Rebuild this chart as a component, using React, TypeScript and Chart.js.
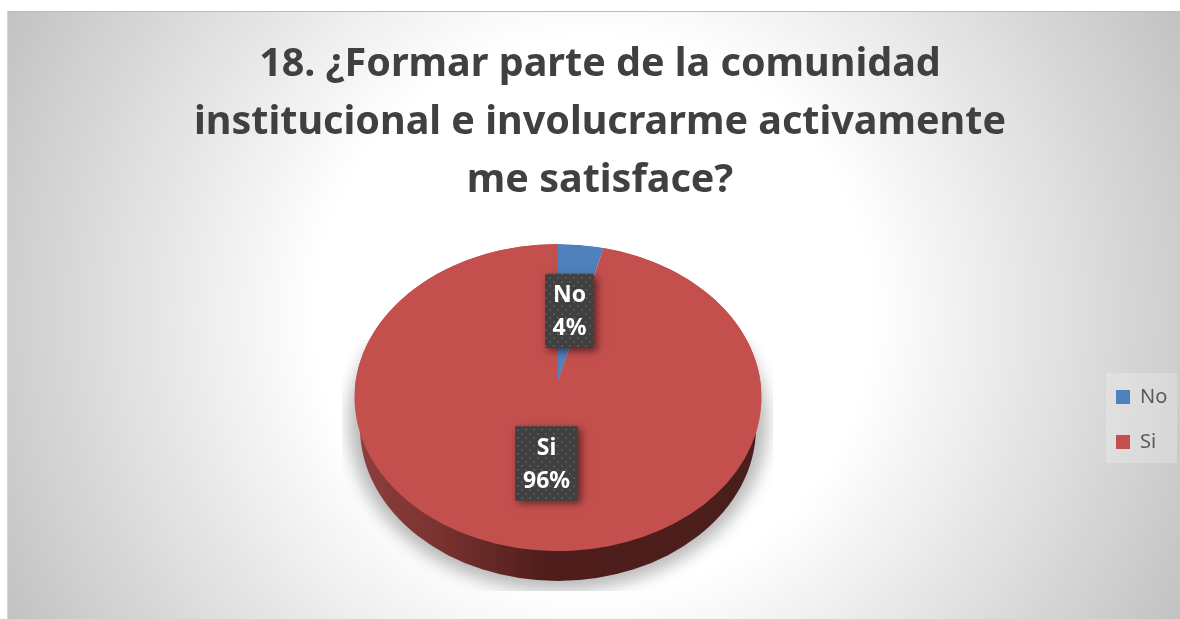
import React, { useEffect, useRef } from "react";
import { Chart, registerables } from "chart.js";

Chart.register(...registerables);

const categories = ["No", "Si"];
const seriesValues = [3.6, 96.4];
const seriesColors = ["#4f81bd", "#c4504e"];
const titleLines = [
  "18. ¿Formar parte de la comunidad",
  "institucional e involucrarme activamente",
  "me satisface?",
];

const FONT = "'Noto Sans', 'Open Sans', sans-serif";
const pie = {
  x: 558,
  radius: 203.5,
  faceY: 397.5,
  faceScale: 153.5 / 203.5,
  apexY: 381,
  upper: 137 / 203.5,
  lower: 170 / 203.5,
  depth: 30,
  wallRx: 198,
};
const frame = { x: 7, y: 11, right: 1180, bottom: 619 };
const legendBox = { x: 1106, y: 373, w: 71, h: 90 };

function makeDots(ctx: CanvasRenderingContext2D) {
  const c = document.createElement("canvas");
  c.width = 8;
  c.height = 8;
  const g = c.getContext("2d")!;
  g.fillStyle = "#404040";
  g.fillRect(0, 0, 8, 8);
  g.fillStyle = "#565656";
  g.fillRect(1, 1, 2, 2);
  g.fillRect(5, 5, 2, 2);
  return ctx.createPattern(c, "repeat")!;
}

function applyTransform(ctx: CanvasRenderingContext2D, el: any, y: number, s: number) {
  ctx.translate(pie.x, y);
  ctx.scale(1, s);
  ctx.translate(-el.x, -el.y);
}

const scenePlugin = {
  id: "scene",
  afterLayout(chart: any) {
    const l = chart.legend;
    const p = 25;
    l.left = 1116 - p;
    l.right = l.left + l.width;
    l.top = 387 - p;
    l.bottom = l.top + l.height;
  },
  beforeDraw(chart: any) {
    const { ctx } = chart;
    ctx.save();
    const w = frame.right - frame.x;
    const h = frame.bottom - frame.y;
    const cx = frame.x + w / 2;
    const cy = frame.y + h / 2;
    const r = Math.hypot(w, h) / 2;
    const g = ctx.createRadialGradient(cx, cy, 0, cx, cy, r);
    g.addColorStop(0, "#ffffff");
    g.addColorStop(0.42, "#ffffff");
    g.addColorStop(1, "#c2c2c2");
    ctx.fillStyle = g;
    ctx.fillRect(frame.x, frame.y, w, h);
    ctx.fillStyle = "#bdbdbd";
    ctx.fillRect(frame.x, frame.y, w, 1);
    ctx.fillStyle = "#d6d6d6";
    ctx.fillRect(frame.x, frame.y, 1, h);
    ctx.fillStyle = "rgba(255,255,255,0.22)";
    ctx.fillRect(legendBox.x, legendBox.y, legendBox.w, legendBox.h);
    ctx.restore();
  },
  beforeDatasetsDraw(chart: any) {
    const { ctx } = chart;
    const el = chart.getDatasetMeta(0).data[0];
    const R = pie.radius;
    const ry = R * pie.faceScale;
    const wallY = pie.faceY + pie.depth;

    ctx.save();
    ctx.beginPath();
    ctx.rect(342, 340, 431, 251);
    ctx.clip();
    ctx.filter = "blur(8px)";
    ctx.fillStyle = "rgba(0,0,0,0.27)";
    ctx.beginPath();
    ctx.ellipse(pie.x, 423, R + 6, 168, 0, 0, Math.PI * 2);
    ctx.fill();
    ctx.restore();

    ctx.save();
    const wall = ctx.createLinearGradient(pie.x - R, 0, pie.x + R, 0);
    wall.addColorStop(0, "#8f3f3d");
    wall.addColorStop(0.2, "#7a3331");
    wall.addColorStop(0.47, "#4f1d1b");
    wall.addColorStop(1, "#4a1e1c");
    ctx.fillStyle = wall;
    ctx.beginPath();
    ctx.moveTo(pie.x - pie.wallRx, pie.faceY);
    ctx.ellipse(pie.x, wallY, pie.wallRx, ry, 0, Math.PI, 0, true);
    ctx.lineTo(pie.x + pie.wallRx, pie.faceY);
    ctx.closePath();
    ctx.fill();
    ctx.restore();

    // First pass: wedge seen in perspective, kept inside the elliptical face.
    ctx.save();
    ctx.beginPath();
    ctx.ellipse(pie.x, pie.faceY, R, ry, 0, 0, Math.PI * 2);
    ctx.clip();
    applyTransform(ctx, el, pie.apexY, pie.upper);
  },
  afterDatasetsDraw(chart: any) {
    const { ctx } = chart;
    ctx.restore();
    const arcs = chart.getDatasetMeta(0).data;

    // Second pass: the large slice on the elliptical face.
    ctx.save();
    applyTransform(ctx, arcs[1], pie.faceY, pie.faceScale);
    arcs[1].draw(ctx);
    ctx.restore();

    const total = seriesValues.reduce((a, b) => a + b, 0);
    const dots = makeDots(ctx);
    arcs.forEach((a: any, i: number) => {
      const mid = (a.startAngle + a.endAngle) / 2;
      const dx = Math.cos(mid) * pie.radius * 0.5;
      const dy = Math.sin(mid) * pie.radius * 0.5;
      const x = pie.x + dx;
      const y = pie.apexY + dy * (dy < 0 ? pie.upper : pie.lower) - 2;
      const pct = `${Math.round((seriesValues[i] / total) * 100)}%`;
      ctx.save();
      ctx.font = `bold 23px ${FONT}`;
      const tw = Math.max(ctx.measureText(categories[i]).width, ctx.measureText(pct).width);
      const bw = tw + 15;
      const bh = 74;
      ctx.shadowColor = "rgba(0,0,0,0.55)";
      ctx.shadowBlur = 8;
      ctx.shadowOffsetX = 3;
      ctx.shadowOffsetY = 3;
      ctx.fillStyle = "#404040";
      ctx.fillRect(x - bw / 2, y - bh / 2, bw, bh);
      ctx.shadowColor = "transparent";
      ctx.fillStyle = dots;
      ctx.fillRect(x - bw / 2, y - bh / 2, bw, bh);
      ctx.fillStyle = "#ffffff";
      ctx.textAlign = "center";
      ctx.textBaseline = "middle";
      ctx.fillText(categories[i], x, y - 15);
      ctx.fillText(pct, x, y + 18);
      ctx.restore();
    });
  },
};

export default function App() {
  const ref = useRef<HTMLCanvasElement>(null);
  useEffect(() => {
    const chart = new Chart(ref.current!, {
      type: "pie",
      data: {
        labels: categories,
        datasets: [{ data: seriesValues, backgroundColor: seriesColors, borderWidth: 0, clip: false } as any],
      },
      options: {
        animation: false,
        responsive: false,
        radius: pie.radius,
        layout: { padding: { left: 20, top: 0, right: 0, bottom: 0 } },
        plugins: {
          tooltip: { enabled: false },
          title: {
            display: true,
            text: titleLines,
            color: "#404040",
            font: { family: FONT, size: 39.5, weight: "bold", lineHeight: 1.47 },
            padding: { top: 36, bottom: 0 },
          },
          legend: {
            position: "right",
            align: "start",
            labels: {
              boxWidth: 14,
              boxHeight: 14,
              padding: 25,
              color: "#595959",
              font: { family: FONT, size: 20 },
            },
          },
        },
      } as any,
      plugins: [scenePlugin],
    });
    return () => chart.destroy();
  }, []);
  return (
    <canvas
      ref={ref}
      width={1180}
      height={619}
      style={{ position: "absolute", left: 0, top: 0, display: "block" }}
    />
  );
}
